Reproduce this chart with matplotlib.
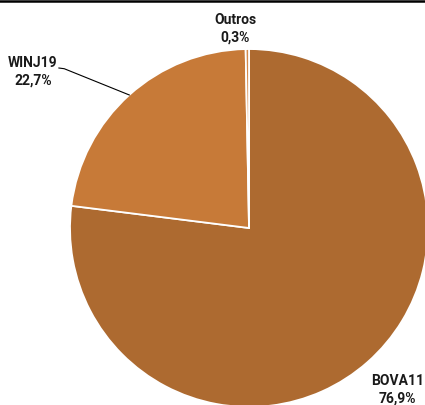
import numpy as np
import matplotlib
matplotlib.use("Agg")
import matplotlib.pyplot as plt
from matplotlib.lines import Line2D

labels = ["BOVA11", "WINJ19", "Outros"]
shares = [76.9, 22.7, 0.3]
pct_text = ["76,9%", "22,7%", "0,3%"]
colors = ["#AD6A30", "#C77A38", "#D4894A"]

plt.rcParams['font.family'] = ['Roboto', 'DejaVu Sans']

fig = plt.figure(figsize=(4.25, 4.05), dpi=100)
ax = fig.add_axes([0, 0, 1, 1])

wedges, _ = ax.pie(shares, colors=colors, startangle=90, counterclock=False,
                   radius=1.0, wedgeprops=dict(edgecolor="white", linewidth=1.3))

# view so the pie sits right/bottom like the reference (slightly cropped)
ax.set_xlim(-1.391, 0.983)
ax.set_ylim(-0.989, 1.274)
ax.set_aspect("auto")
ax.axis("off")

# label placement: text centre, leader start (or None)
spots = {
    "BOVA11": ((0.828, -0.902), None),
    "WINJ19": ((-1.207, 0.874), (-1.062, 0.894)),
    "Outros": ((-0.078, 1.112), None),
}

for w, lab, pt in zip(wedges, labels, pct_text):
    mid = np.deg2rad((w.theta1 + w.theta2) / 2)
    edge = (np.cos(mid), np.sin(mid))
    (tx, ty), start = spots[lab]
    ax.text(tx, ty, lab + "\n" + pt, ha="center", va="center", fontsize=10,
            fontweight="bold", color="#1a1a1a", linespacing=1.35)
    if start:
        ax.plot([start[0], start[0] + 0.03, edge[0]],
                [start[1], start[1] - 0.004, edge[1]],
                color="black", lw=0.8)

fig.add_artist(Line2D([0, 1], [1 - 1.2 / 405, 1 - 1.2 / 405], color="black",
                      lw=1.8, transform=fig.transFigure))

fig.savefig("out.png", dpi=100)
